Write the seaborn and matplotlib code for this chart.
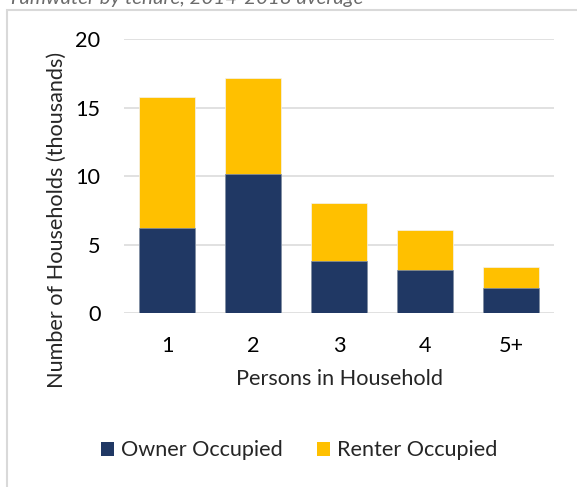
import matplotlib
matplotlib.use("Agg")
import matplotlib.pyplot as plt
from matplotlib.patches import Patch, Rectangle
import pandas as pd
import seaborn as sns

# Households by size and tenure (thousands)
household_size = ["1", "2", "3", "4", "5+"]
owner_occupied = [6.24, 10.17, 3.79, 3.16, 1.82]
renter_occupied = [9.50, 6.98, 4.27, 2.89, 1.53]
y_ticks = [0, 5, 10, 15, 20]

title_text = "Tumwater by tenure, 2014-2018 average"
x_label = "Persons in Household"
y_label = "Number of Households (thousands)"

NAVY = "#203864"
GOLD = "#FFC000"
GRID = "#d9d9d9"
FS = 15.6

sns.set_theme(style="white")
plt.rcParams["font.family"] = ["Lato", "DejaVu Sans"]

df = pd.DataFrame({
    "size": household_size,
    "owner": owner_occupied,
    "renter": renter_occupied,
})
df["total"] = df["owner"] + df["renter"]

W, H = 577, 487
fig = plt.figure(figsize=(W / 100, H / 100), dpi=100)
ax = fig.add_axes([124 / W, 1 - 313.3 / H, 430 / W, (313.3 - 39) / H])

# stacked bars: full height in gold, owner share drawn over it in navy
sns.barplot(data=df, x="size", y="total", color=GOLD, width=0.66,
            saturation=1, ax=ax, edgecolor="#f3f3f3", linewidth=0.5, zorder=3)
sns.barplot(data=df, x="size", y="owner", color=NAVY, width=0.66,
            saturation=1, ax=ax, edgecolor="#8090aa", linewidth=0.5, zorder=4)

ax.set_ylim(0, 20)
ax.set_xlim(-0.5, len(household_size) - 0.5)
ax.set_yticks(y_ticks)
ax.set_yticklabels([str(t) for t in y_ticks])
ax.yaxis.grid(True, color=GRID, linewidth=1.1, zorder=0)
ax.set_axisbelow(True)
for s in ax.spines.values():
    s.set_visible(False)
ax.tick_params(axis="both", length=0, labelsize=FS, colors="black")
ax.tick_params(axis="y", pad=17)
ax.tick_params(axis="x", pad=16)
ax.set_xlabel(x_label, fontsize=FS)
ax.set_ylabel(y_label, fontsize=FS)
ax.xaxis.set_label_coords(0.5, (313.3 - 369) / 274.3)
ax.yaxis.set_label_coords((67 - 124) / 430, (313.3 - 220) / 274.3)

# chart frame (top and left edges)
fig.add_artist(Rectangle((6.5 / W, -0.1), 1.2, 1 - 10 / H + 0.1,
                         transform=fig.transFigure, fill=False,
                         edgecolor=GRID, linewidth=1.5))

# title, partly above the canvas
fig.text(8 / W, 1 - 4 / H, title_text, fontsize=14.7, style="italic",
         color="#6b6b6b", ha="left", va="baseline")

handles = [Patch(facecolor=NAVY, edgecolor="none", label="Owner Occupied"),
           Patch(facecolor=GOLD, edgecolor="none", label="Renter Occupied")]
fig.legend(handles=handles, loc="center", bbox_to_anchor=(299 / W, 1 - 450.5 / H),
           ncol=2, frameon=False, fontsize=FS, handlelength=0.62, handleheight=0.62,
           handletextpad=0.3, columnspacing=1.6, borderpad=0)

fig.savefig("out.png", dpi=100)
